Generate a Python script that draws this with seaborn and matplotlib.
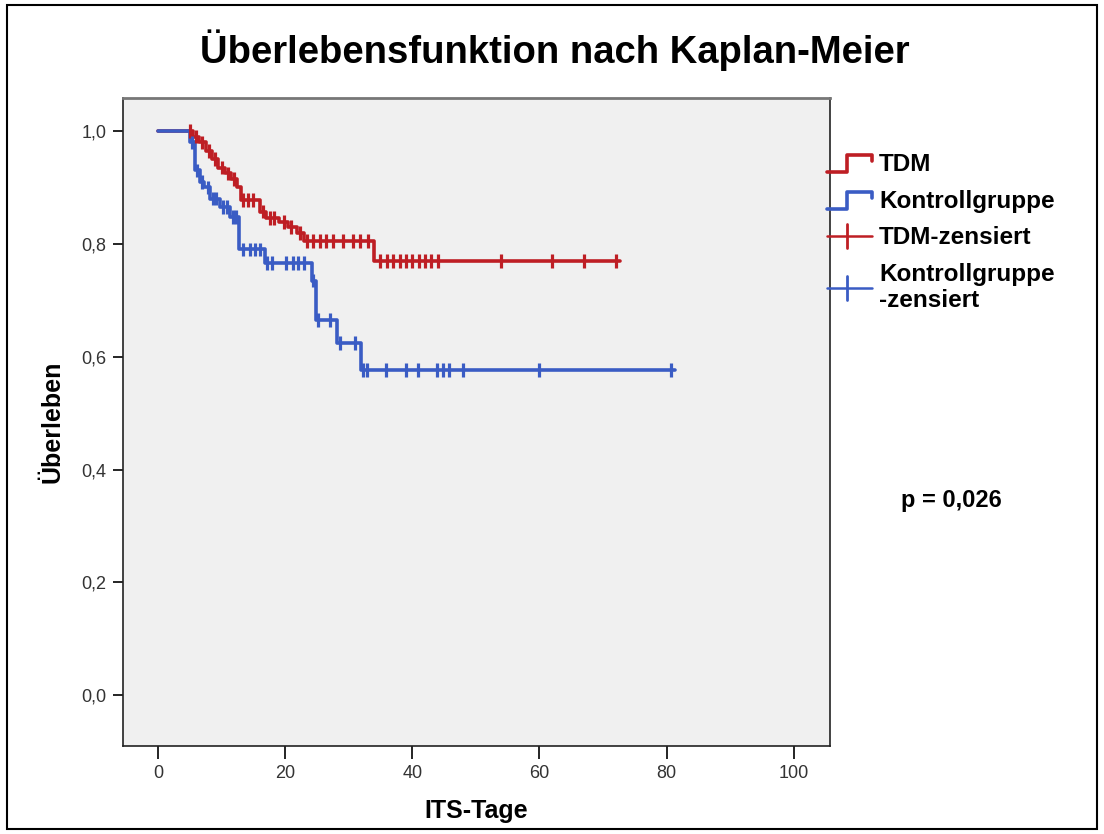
import numpy as np
import pandas as pd
import matplotlib
matplotlib.use("Agg")
import matplotlib.pyplot as plt
import seaborn as sns
from matplotlib.lines import Line2D
from matplotlib.legend_handler import HandlerBase
from matplotlib import font_manager

# --- Kaplan-Meier data ---
group_names = ["TDM", "Kontrollgruppe"]

tdm_event_times = [5.5, 6.5, 7.5, 8.5, 9.5, 10.5, 11.5, 12.5, 13.0, 16.0, 17.0, 19.0, 20.5, 21.8, 22.9, 34.0]
tdm_survival = [0.99, 0.98, 0.965, 0.95, 0.935, 0.925, 0.915, 0.90, 0.878, 0.857, 0.846, 0.839, 0.83, 0.819, 0.805, 0.77]
tdm_censor_times = [5.0, 6.0, 7.0, 8.0, 9.0, 10.0, 11.0, 12.0, 13.4, 14.2, 15.0, 16.5, 17.6, 18.3, 19.8, 21.0,
                    22.3, 23.4, 24.4, 25.5, 26.5, 27.5, 29.1, 30.7, 31.8, 33.0,
                    35.0, 36.0, 37.0, 38.0, 39.0, 40.0, 41.0, 42.0, 43.0, 44.0, 54.0, 62.0, 67.0, 72.0]
tdm_end = 72.6

ctrl_event_times = [5.0, 5.8, 6.6, 7.3, 8.2, 9.7, 11.3, 12.8, 16.8, 24.2, 24.8, 28.1, 32.0]
ctrl_survival = [0.98, 0.93, 0.91, 0.90, 0.88, 0.865, 0.848, 0.79, 0.766, 0.735, 0.665, 0.624, 0.576]
ctrl_censor_times = [5.3, 6.2, 7.0, 7.8, 8.7, 9.2, 10.2, 10.8, 11.8, 12.3, 13.4, 14.5, 15.3, 16.0,
                     17.1, 17.9, 20.2, 21.3, 22.1, 22.9, 24.4, 25.2, 27.0, 28.6, 31.0,
                     32.3, 32.9, 35.9, 39.0, 40.9, 43.9, 44.8, 45.8, 48.0, 59.9, 80.7]
ctrl_end = 81.3

x_ticks = [0, 20, 40, 60, 80, 100]
y_ticks = [0.0, 0.2, 0.4, 0.6, 0.8, 1.0]
y_tick_labels = ["0,0", "0,2", "0,4", "0,6", "0,8", "1,0"]
p_text = "p = 0,026"

colors = {"TDM": "#BE1E24", "Kontrollgruppe": "#3A5CC4"}


def step_frame(name, times, surv, end):
    t = [0.0] + list(times) + [end]
    s = [1.0] + list(surv) + [surv[-1]]
    return pd.DataFrame({"t": t, "s": s, "Gruppe": name})


def censor_frame(name, times, ev_times, surv):
    ev = np.array(ev_times)
    sv = np.array([1.0] + list(surv))
    idx = np.searchsorted(ev, np.array(times), side="right")
    return pd.DataFrame({"t": times, "s": sv[idx], "Gruppe": name})


steps = pd.concat([step_frame("TDM", tdm_event_times, tdm_survival, tdm_end),
                   step_frame("Kontrollgruppe", ctrl_event_times, ctrl_survival, ctrl_end)])
censored = pd.concat([censor_frame("TDM", tdm_censor_times, tdm_event_times, tdm_survival),
                      censor_frame("Kontrollgruppe", ctrl_censor_times, ctrl_event_times, ctrl_survival)])

sns.set_theme(style="white")
available = {f.name for f in font_manager.fontManager.ttflist}
narrow = "Liberation Sans Narrow" if "Liberation Sans Narrow" in available else "Liberation Sans"
plt.rcParams["font.family"] = ["Liberation Sans", "DejaVu Sans"]
plt.rcParams["text.color"] = "black"
plt.rcParams["axes.labelcolor"] = "black"

fig = plt.figure(figsize=(11.04, 8.34), dpi=100)
ax = fig.add_axes([0.1114, 0.1055, 0.6404, 0.777])
ax.set_facecolor("#F0F0F0")

sns.lineplot(data=steps, x="t", y="s", hue="Gruppe", palette=colors, estimator=None, sort=False,
             drawstyle="steps-post", linewidth=2.6, legend=False, ax=ax)
sns.scatterplot(data=censored, x="t", y="s", hue="Gruppe", palette=colors, marker="|", s=95,
                linewidth=2.3, legend=False, ax=ax, zorder=3)

ax.set_xlim(-5.5, 105.7)
ax.set_ylim(-0.09, 1.0585)
ax.set_xticks(x_ticks)
ax.set_xticklabels([str(v) for v in x_ticks], family=[narrow, "DejaVu Sans"], fontsize=13, color="#333333")
ax.set_yticks(y_ticks)
ax.set_yticklabels(y_tick_labels, family=[narrow, "DejaVu Sans"], fontsize=13, color="#333333")
ax.tick_params(axis="both", direction="out", length=7, width=1.2, color="black", pad=5,
               bottom=True, left=True)
ax.tick_params(axis="x", length=9)
for sp in ax.spines.values():
    sp.set_color("#222222")
    sp.set_linewidth(1.2)
ax.spines["top"].set_color("#777777")
ax.spines["top"].set_linewidth(2)

ax.set_xlabel("ITS-Tage", fontsize=18, fontweight="bold", labelpad=12)
ax.set_ylabel("Überleben", fontsize=18, fontweight="bold", labelpad=12)

fig.text(0.503, 0.94, "Überlebensfunktion nach Kaplan-Meier", ha="center", va="center",
         fontsize=27.5, fontweight="bold")
fig.text(0.862, 0.40, p_text, ha="center", va="center", fontsize=17, fontweight="bold")


class HandlerStep(HandlerBase):
    def create_artists(self, legend, orig_handle, xdescent, ydescent, width, height, fontsize, trans):
        x0, x1 = -xdescent, -xdescent + width
        mid = x0 + width * 0.45
        lo, hi = -ydescent - height * 0.05, -ydescent + height * 0.95
        line = Line2D([x0, mid, mid, x1, x1], [lo, lo, hi, hi, hi - height * 0.35],
                      color=orig_handle.get_color(), linewidth=2.6, transform=trans)
        return [line]


class HandlerCensor(HandlerBase):
    def create_artists(self, legend, orig_handle, xdescent, ydescent, width, height, fontsize, trans):
        x0, x1 = -xdescent, -xdescent + width
        yc = -ydescent + height / 2
        mid = x0 + width * 0.45
        h = Line2D([x0, x1], [yc, yc], color=orig_handle.get_color(), linewidth=1.8, transform=trans)
        v = Line2D([mid, mid], [yc - height * 0.7, yc + height * 0.7], color=orig_handle.get_color(),
                   linewidth=2.0, transform=trans)
        return [h, v]


step_tdm = Line2D([], [], color=colors["TDM"])
step_ctrl = Line2D([], [], color=colors["Kontrollgruppe"])
cens_tdm = Line2D([], [], color=colors["TDM"])
cens_ctrl = Line2D([], [], color=colors["Kontrollgruppe"])
fig.legend([step_tdm, step_ctrl, cens_tdm, cens_ctrl],
           ["TDM", "Kontrollgruppe", "TDM-zensiert", "Kontrollgruppe\n-zensiert"],
           handler_map={step_tdm: HandlerStep(), step_ctrl: HandlerStep(),
                        cens_tdm: HandlerCensor(), cens_ctrl: HandlerCensor()},
           loc="upper left", bbox_to_anchor=(0.749, 0.816), frameon=False,
           prop={"weight": "bold", "size": 17.5}, handlelength=1.85, handletextpad=0.3,
           labelspacing=0.55, borderaxespad=0, borderpad=0)

fig.patches.append(plt.Rectangle((0.006, 0.006), 0.988, 0.988, transform=fig.transFigure,
                                 fill=False, edgecolor="black", linewidth=1.5))

fig.savefig("out.png", dpi=100)
